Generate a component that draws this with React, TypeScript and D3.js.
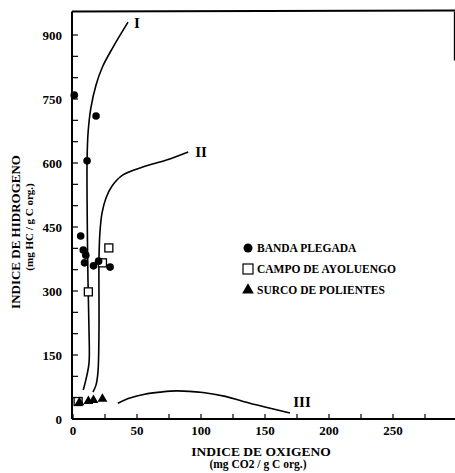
import React from "react";
import * as d3 from "d3";

// Van Krevelen-type diagram: oxygen index vs hydrogen index
const bandaPlegada = [
  { x: 1, y: 759 }, { x: 18, y: 710 }, { x: 11, y: 605 }, { x: 6, y: 429 },
  { x: 8, y: 396 }, { x: 10, y: 384 }, { x: 9, y: 366 }, { x: 16, y: 359 },
  { x: 20, y: 370 }, { x: 29, y: 356 },
];
const campoAyoluengo = [
  { x: 28, y: 401 }, { x: 23, y: 366 }, { x: 12, y: 298 }, { x: 4, y: 41 },
];
const surcoPolientes = [
  { x: 5, y: 39 }, { x: 12, y: 42 }, { x: 16, y: 44 }, { x: 23, y: 47 },
];

const curveI = [
  [8, 68], [10, 91], [12.5, 131], [12.5, 209], [11.7, 326], [11, 513],
  [11, 607], [11.8, 672], [14, 730], [18, 783], [23, 825], [31, 870], [43, 930],
];
const curveII = [
  [15.6, 63], [18, 80], [19.5, 110], [20.3, 209], [20.3, 373], [21, 436],
  [22.7, 483], [25.8, 518], [30.5, 546], [39, 572], [55, 591], [73, 607], [90, 626],
];
const curveIII = [
  [35, 37], [44.5, 49], [56, 58], [68, 63], [81, 66], [101.5, 62],
  [119, 53], [133, 41], [150, 28], [169.5, 14],
];

const xTicks = d3.range(0, 301, 25);
const xLabels = [0, 50, 100, 150, 200, 250];
const yTicks = d3.range(0, 901, 50);
const yLabels = [0, 150, 300, 450, 600, 750, 900];

const legendItems = ["BANDA PLEGADA", "CAMPO DE AYOLUENGO", "SURCO DE POLIENTES"];

const font = "'Liberation Serif', 'Times New Roman', serif";

export default function App() {
  const width = 455;
  const height = 473;

  const x = d3.scaleLinear().domain([0, 300]).range([73, 457]);
  const y = d3.scaleLinear().domain([0, 900]).range([419, 35]);

  const line = d3.line<number[]>()
    .x(d => x(d[0]))
    .y(d => y(d[1]))
    .curve(d3.curveCatmullRom.alpha(0.5));

  const tri = d3.symbol().type(d3.symbolTriangle).size(42)();

  const x0 = x(0) - 1;
  const yTop = y(955);
  const xRight = x(298);

  return (
    <svg width={width} height={height}
      style={{ position: "absolute", left: 0, top: 0, background: "#fff" }}
      fontFamily={font}>
      {/* frame */}
      <line x1={x0} x2={x0} y1={yTop} y2={y(0)} stroke="#000" strokeWidth={2} />
      <line x1={x0} x2={xRight + 1} y1={y(0)} y2={y(0)} stroke="#000" strokeWidth={2} />
      <line x1={x0} x2={xRight + 1} y1={yTop} y2={yTop - 1} stroke="#000" strokeWidth={2} />
      <line x1={xRight} x2={xRight} y1={yTop} y2={y(840)} stroke="#000" strokeWidth={1.2} />

      {/* y ticks */}
      {yTicks.map(t => (
        <line key={"yt" + t} x1={x0} x2={x0 + 6} y1={y(t)} y2={y(t)} stroke="#000" strokeWidth={1.2} />
      ))}
      {yLabels.map(t => (
        <text key={"yl" + t} x={62} y={y(t)} dy="0.35em" textAnchor="end"
          fontSize={13} fontWeight="bold">{t}</text>
      ))}

      {/* x ticks */}
      {xTicks.map(t => (
        <line key={"xt" + t} x1={x(t)} x2={x(t)} y1={y(0)} y2={y(0) - 5} stroke="#000" strokeWidth={1.2} />
      ))}
      {xLabels.map(t => (
        <text key={"xl" + t} x={x(t)} y={435} textAnchor="middle"
          fontSize={13} fontWeight="bold">{t}</text>
      ))}

      {/* axis titles */}
      <text x={261} y={456} textAnchor="middle" fontSize={13.5} fontWeight="bold">INDICE DE OXIGENO</text>
      <text x={258} y={468} textAnchor="middle" fontSize={11.5} fontWeight="bold">(mg CO2 / g C org.)</text>
      <text transform="translate(20,232) rotate(-90)" textAnchor="middle" fontSize={13} fontWeight="bold">INDICE DE HIDROGENO</text>
      <text transform="translate(33,227) rotate(-90)" textAnchor="middle" fontSize={11} fontWeight="bold">(mg HC / g C org.)</text>

      {/* evolution curves */}
      {[curveI, curveII, curveIII].map((c, i) => (
        <path key={"c" + i} d={line(c) || ""} fill="none" stroke="#000" strokeWidth={1.6} />
      ))}
      <text x={137} y={28} textAnchor="middle" fontSize={15} fontWeight="bold">I</text>
      <text x={201} y={157} textAnchor="middle" fontSize={15} fontWeight="bold">II</text>
      <text x={302} y={407} textAnchor="middle" fontSize={15} fontWeight="bold">III</text>

      {/* points */}
      {campoAyoluengo.map((d, i) => (
        <rect key={"s" + i} x={x(d.x) - 4} y={y(d.y) - 4} width={8} height={8}
          fill="#fff" stroke="#000" strokeWidth={1.3} />
      ))}
      {bandaPlegada.map((d, i) => (
        <circle key={"b" + i} cx={x(d.x)} cy={y(d.y)} r={3.8} fill="#000" />
      ))}
      {surcoPolientes.map((d, i) => (
        <path key={"t" + i} d={tri || ""} transform={`translate(${x(d.x)},${y(d.y)})`} fill="#000" />
      ))}

      {/* legend */}
      {legendItems.map((name, i) => {
        const ly = 248 + i * 21;
        return (
          <g key={name}>
            {i === 0 && <circle cx={248} cy={ly} r={4.5} fill="#000" />}
            {i === 1 && <rect x={243} y={ly - 5} width={10} height={10} fill="#fff" stroke="#000" strokeWidth={1.2} />}
            {i === 2 && <path d={d3.symbol().type(d3.symbolTriangle).size(60)() || ""}
              transform={`translate(248,${ly})`} fill="#000" />}
            <text x={257} y={ly} dy="0.35em" fontSize={11.5} fontWeight="bold">{name}</text>
          </g>
        );
      })}
    </svg>
  );
}
